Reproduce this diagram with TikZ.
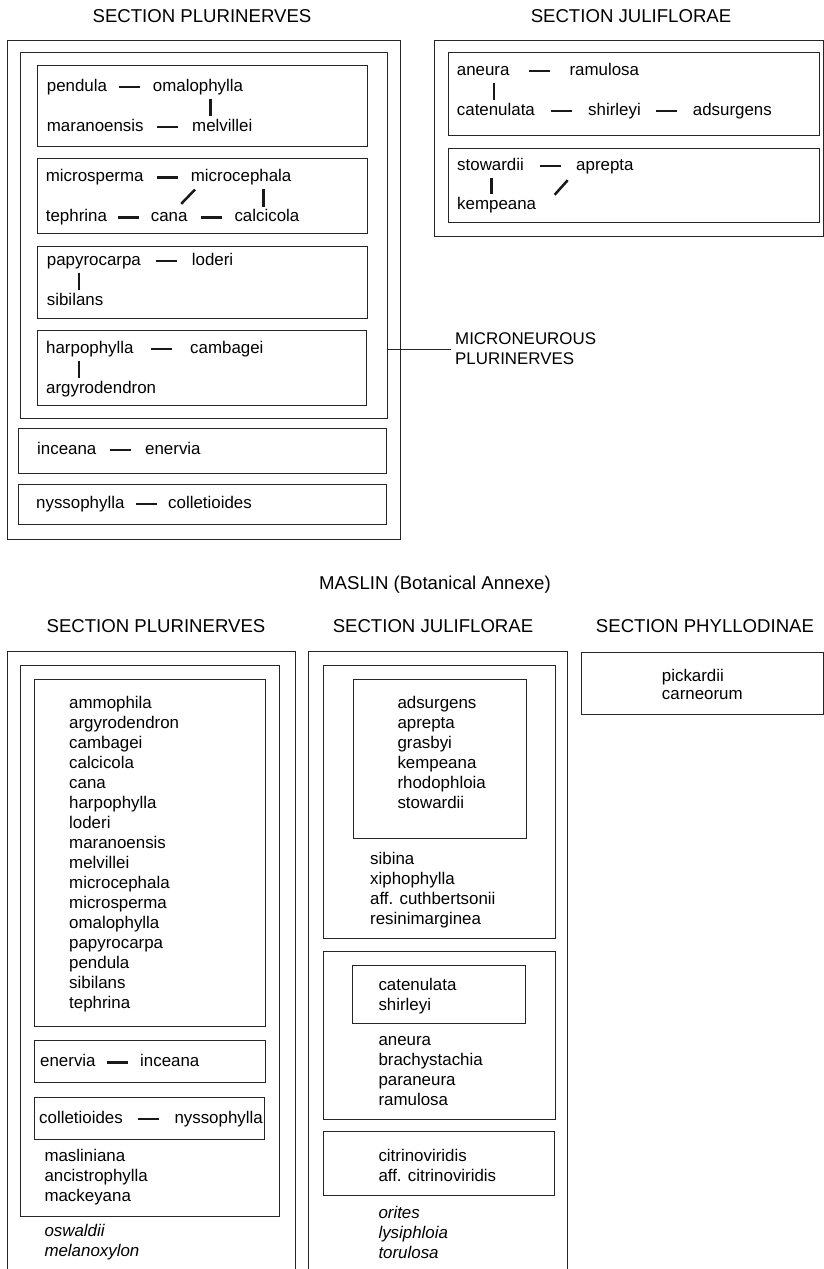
\documentclass[tikz,border=0pt]{standalone}
\usepackage{fontspec}
\setmainfont{Liberation Sans}
\usetikzlibrary{calc}

\newcommand{\hdash}[2]{\draw[link] ($(#1.east)!.5!(#2.west)$) +(-10.5,0) -- +(10.5,0);}
\newcommand{\vbar}[3]{\draw[link, shorten <=4pt, shorten >=3pt] ($(#1.south west)+(#3,0)$) -- ($(#1.south west |- #2.north)+(#3,0)$);}

\begin{document}
\begin{tikzpicture}[x=1pt, y=-1pt,
        frame/.style = {draw=black!85, line width=1pt},
        link/.style = {line width=2.5pt, black!90},
        taxon/.style = {anchor=base west, inner sep=0pt, text height=12pt, text depth=3.5pt, font=\fontsize{16.9}{20}\selectfont},
        outgroup/.style = {taxon, font=\fontsize{16.9}{20}\selectfont\itshape},
        heading/.style = {anchor=base, inner sep=0pt, font=\fontsize{18.6}{22}\selectfont}
    ]
        \useasboundingbox (0,0) rectangle (824,1269);

        % top left: plurinerves
        \node[heading] (plurtitle) at (202,22.7) {SECTION PLURINERVES};
        \draw[frame] (7.5,40.7) rectangle (400.5,539);
        \draw[frame] (20,52.3) rectangle (387.5,418);

        \draw[frame] (37.7,65.3) rectangle (367.7,146.7);
        \node[taxon] (pendula) at (46.7,91) {pendula};
        \node[taxon] (omalophylla) at (152.7,91) {omalophylla};
        \node[taxon] (maranoensis) at (46.7,131) {maranoensis};
        \node[taxon] (melvillei) at (192,131) {melvillei};
        \hdash{pendula}{omalophylla}
        \hdash{maranoensis}{melvillei}
        \vbar{omalophylla}{melvillei}{58}

        \draw[frame] (37.5,158.3) rectangle (367.7,233.3);
        \node[taxon] (microsperma) at (45.7,181.7) {microsperma};
        \node[taxon] (microcephala) at (190.7,181.7) {microcephala};
        \node[taxon] (tephrina) at (45.7,221.7) {tephrina};
        \node[taxon] (cana) at (150.7,221.7) {cana};
        \node[taxon] (calcicola) at (234.3,221.7) {calcicola};
        \hdash{microsperma}{microcephala}
        \hdash{tephrina}{cana}
        \hdash{cana}{calcicola}
        \vbar{microcephala}{calcicola}{72.6}
        \draw[link] ($(microcephala.south west)+(4.3,4.1)$) -- ($(cana.north east)+(-6.5,-5.7)$);

        \draw[frame] (37.7,246.7) rectangle (367.7,318.3);
        \node[taxon] (papyrocarpa) at (46.7,265) {papyrocarpa};
        \node[taxon] (loderi) at (191.7,265) {loderi};
        \node[taxon] (sibilans) at (46.7,305) {sibilans};
        \hdash{papyrocarpa}{loderi}
        \vbar{papyrocarpa}{sibilans}{32.3}

        \draw[frame] (37.3,330) rectangle (366.7,405);
        \node[taxon] (harpophylla) at (46,353.3) {harpophylla};
        \node[taxon] (cambagei) at (190,353.3) {cambagei};
        \node[taxon] (argyrodendron) at (46,393) {argyrodendron};
        \hdash{harpophylla}{cambagei}
        \vbar{harpophylla}{argyrodendron}{33}

        \draw[frame] (18.3,428) rectangle (386.7,473);
        \node[taxon] (inceana) at (37,454) {inceana};
        \node[taxon] (enervia) at (145,454) {enervia};
        \hdash{inceana}{enervia}

        \draw[frame] (18.3,484) rectangle (386.7,524);
        \node[taxon] (nyssophylla) at (36,508) {nyssophylla};
        \node[taxon] (colletioides) at (168,508) {colletioides};
        \hdash{nyssophylla}{colletioides}

        % microneurous label
        \coordinate (microbox) at (387.5,349);
        \coordinate (microtip) at (451,349);
        \draw[frame] (microbox) -- (microtip);
        \node[taxon] (microlabel) at (455,344) {MICRONEUROUS};
        \node[taxon] (plurlabel) at (455,364) {PLURINERVES};

        % top right: juliflorae
        \node[heading] (jultitle) at (631,22.7) {SECTION JULIFLORAE};
        \draw[frame] (434,40.7) rectangle (823,236);

        \draw[frame] (448.3,52.3) rectangle (819,135);
        \node[taxon] (aneura) at (456.7,75) {aneura};
        \node[taxon] (ramulosa) at (569.3,75) {ramulosa};
        \node[taxon] (catenulata) at (456.7,115) {catenulata};
        \node[taxon] (shirleyi) at (588,115) {shirleyi};
        \node[taxon] (adsurgens) at (692.7,115) {adsurgens};
        \hdash{aneura}{ramulosa}
        \hdash{catenulata}{shirleyi}
        \hdash{shirleyi}{adsurgens}
        \vbar{aneura}{catenulata}{37.3}

        \draw[frame] (448.3,148.3) rectangle (819,222.7);
        \node[taxon] (stowardii) at (457,170) {stowardii};
        \node[taxon] (aprepta) at (576,170) {aprepta};
        \node[taxon] (kempeana) at (457,209) {kempeana};
        \hdash{stowardii}{aprepta}
        \vbar{stowardii}{kempeana}{34.7}
        \draw[link] ($(aprepta.south west)+(-8.3,6.5)$) -- ($(kempeana.north east)+(18.3,-2)$);

        % bottom: maslin
        \node[heading] (maslin) at (435,589) {MASLIN (Botanical Annexe)};
        \node[heading] (plursec) at (156,632) {SECTION PLURINERVES};
        \node[heading] (julsec) at (433,632) {SECTION JULIFLORAE};
        \node[heading] (phyllsec) at (705,632.7) {SECTION PHYLLODINAE};

        % plurinerves column
        \draw[frame] (7,651.7) rectangle (295.7,1275);
        \draw[frame] (20.7,665.7) rectangle (279.5,1216);
        \draw[frame] (34.3,679) rectangle (265.5,1026);
        \foreach \sp [count=\i] in {ammophila,argyrodendron,cambagei,calcicola,cana,harpophylla,loderi,maranoensis,melvillei,microcephala,microsperma,omalophylla,papyrocarpa,pendula,sibilans,tephrina}
            \node[taxon] (plur\i) at (69,688.3+20*\i) {\sp};

        \draw[frame] (34.3,1040.7) rectangle (265,1082.7);
        \node[taxon] (enervia2) at (40,1066.7) {enervia};
        \node[taxon] (inceana2) at (140,1066.7) {inceana};
        \hdash{enervia2}{inceana2}

        \draw[frame] (34.3,1097.3) rectangle (264.5,1139.3);
        \node[taxon] (colletioides2) at (39,1123.3) {colletioides};
        \node[taxon] (nyssophylla2) at (174.3,1123.3) {nyssophylla};
        \hdash{colletioides2}{nyssophylla2}

        \foreach \sp [count=\i] in {masliniana,ancistrophylla,mackeyana}
            \node[taxon] (masl\i) at (44.3,1141+20*\i) {\sp};
        \foreach \sp [count=\i] in {oswaldii,melanoxylon}
            \node[outgroup] (plurout\i) at (44.3,1216.7+20*\i) {\sp};

        % juliflorae column
        \draw[frame] (308.3,651.7) rectangle (567.5,1275);
        \draw[frame] (323.3,665.7) rectangle (555,938.3);
        \draw[frame] (353.3,679) rectangle (526.7,838.3);
        \foreach \sp [count=\i] in {adsurgens,aprepta,grasbyi,kempeana,rhodophloia,stowardii}
            \node[taxon] (jul\i) at (397.3,688.3+20*\i) {\sp};
        \foreach \sp [count=\i] in {sibina,xiphophylla,aff. cuthbertsonii,resinimarginea}
            \node[taxon] (sib\i) at (370,844.3+20*\i) {\sp};

        \draw[frame] (323.3,951.7) rectangle (555,1119.3);
        \draw[frame] (352.3,965.7) rectangle (525.7,1023.3);
        \foreach \sp [count=\i] in {catenulata,shirleyi}
            \node[taxon] (cat\i) at (378.3,970+20*\i) {\sp};
        \foreach \sp [count=\i] in {aneura,brachystachia,paraneura,ramulosa}
            \node[taxon] (ane\i) at (378.3,1025+20*\i) {\sp};

        \draw[frame] (323.3,1131.7) rectangle (554.5,1195);
        \foreach \sp [count=\i] in {citrinoviridis,aff. citrinoviridis}
            \node[taxon] (cit\i) at (378.3,1141.7+20*\i) {\sp};
        \foreach \sp [count=\i] in {orites,lysiphloia,torulosa}
            \node[outgroup] (julout\i) at (378.3,1198.3+20*\i) {\sp};

        % phyllodinae column
        \draw[frame] (581.7,652.7) rectangle (823,714.3);
        \node[taxon] (pickardii) at (661.7,681) {pickardii};
        \node[taxon] (carneorum) at (661.7,699) {carneorum};
    \end{tikzpicture}
\end{document}
